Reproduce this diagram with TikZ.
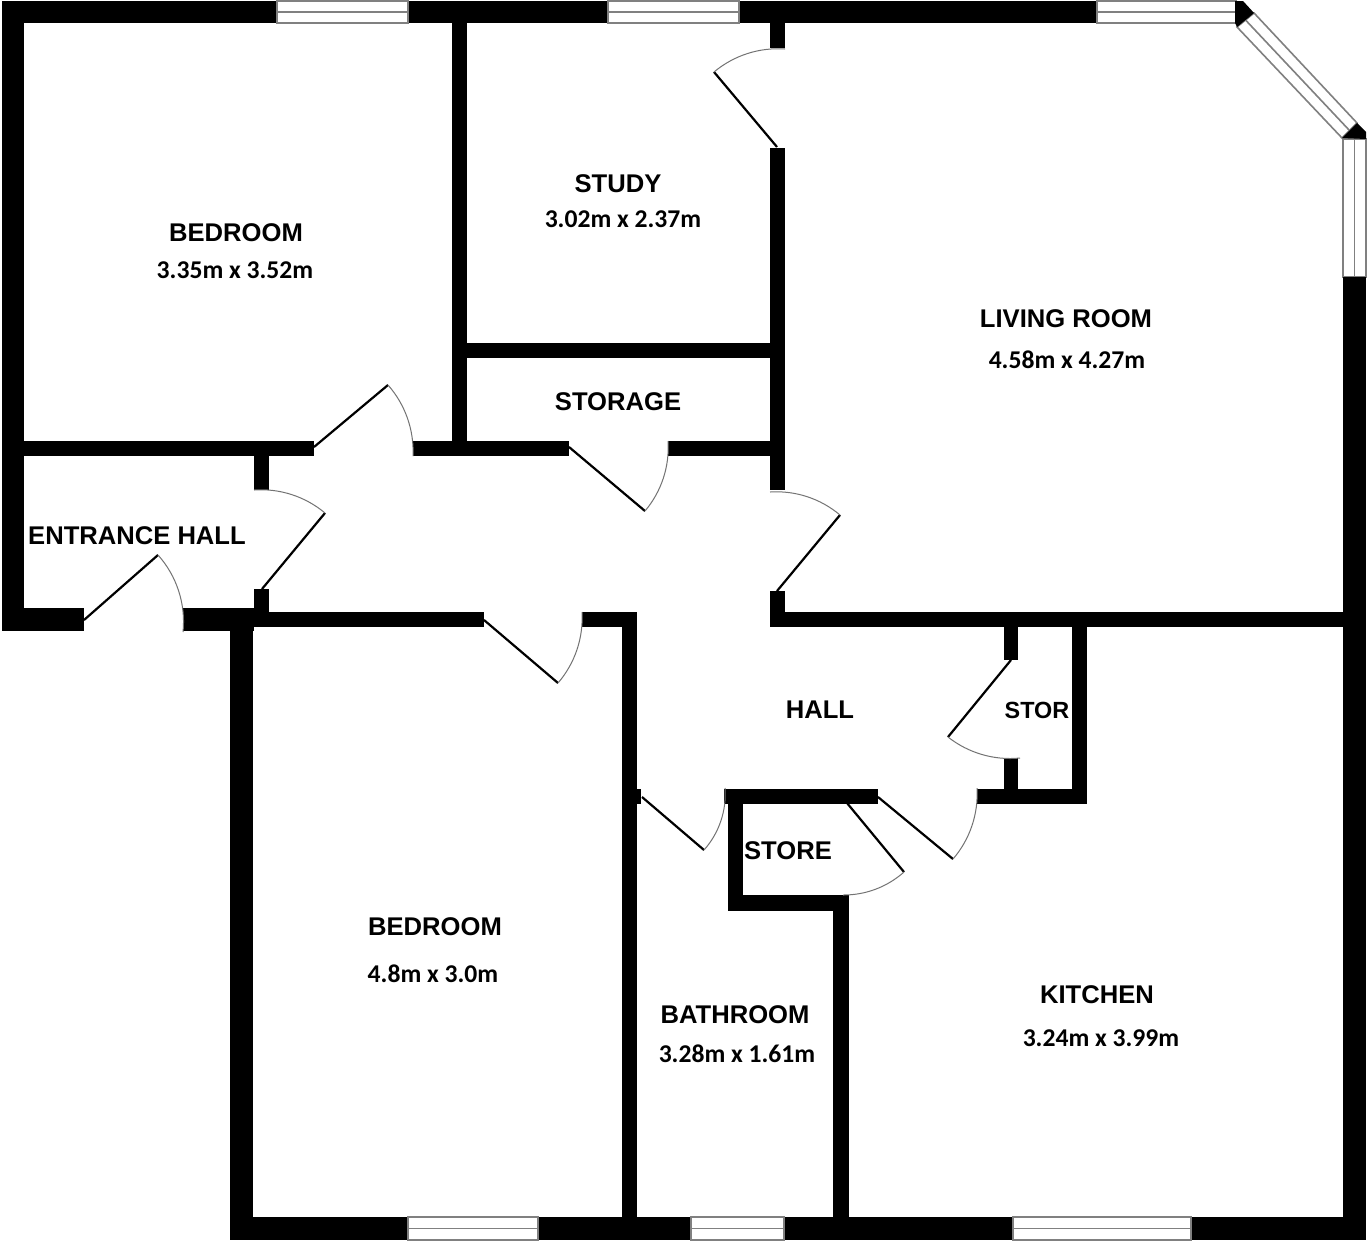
\documentclass[tikz,border=0pt]{standalone}
\usepackage{fontspec}
\setmainfont{Liberation Sans}
\newfontfamily\dimfont{Carlito}
\definecolor{wingray}{gray}{0.5}
\definecolor{arcgray}{gray}{0.45}
\newcommand{\wallbox}[4]{\fill[wallfill] (#1,#2) rectangle (#3,#4);}
\newcommand{\hwin}[4]{\draw[winline] (#1,#2) rectangle (#3,#4);\draw[winline] (#1,{(#2+#4)/2}) -- (#3,{(#2+#4)/2});}
\newcommand{\vwin}[4]{\draw[winline] (#1,#2) rectangle (#3,#4);\draw[winline] ({(#1+#3)/2},#2) -- ({(#1+#3)/2},#4);}
\newcommand{\doorleaf}[8]{\draw[leafline] (#1,#2) -- (#3,#4);\draw[arcline] (#3,#4) to[bend #7=#8] (#5,#6);}
\tikzset{
  wallfill/.style={fill=black},
  winline/.style={draw=wingray,line width=0.8pt,fill=white},
  leafline/.style={draw=black,line width=1.1pt},
  arcline/.style={draw=arcgray,line width=0.5pt,looseness=0.886},
  roomlabel/.style={font=\bfseries\fontsize{12.8}{14}\selectfont,inner sep=0pt,yshift=-0.5pt},
  smalllabel/.style={font=\bfseries\fontsize{11.7}{14}\selectfont,inner sep=0pt},
  dimlabel/.style={font=\dimfont\bfseries\fontsize{12.8}{14}\selectfont,inner sep=0pt},
}
\begin{document}
\begin{tikzpicture}[x=0.5pt,y=-0.5pt]
\useasboundingbox[fill=white] (0,0) rectangle (1368,1248);
% outer top wall
\wallbox{2}{1}{277}{23}
\wallbox{408}{1}{608}{23}
\wallbox{739}{1}{1097}{23}
\hwin{277}{1}{408}{23}
\hwin{608}{1}{739}{23}
\hwin{1097}{1}{1236}{23}
% bay window
\draw[winline] (1254,13) -- (1357,123) -- (1342,138) -- (1237,27) -- cycle;
\draw[winline] (1245.5,20) -- (1349.5,130.5);
\vwin{1343}{139}{1366}{277}
\fill[wallfill] (1235,1) -- (1243,1) -- (1254,13) -- (1237,27) -- (1235,23) -- cycle;
\fill[wallfill] (1357,123) -- (1366,132) -- (1366,139) -- (1342,138) -- cycle;
% left wall and entrance
\wallbox{2}{1}{24}{631}
\wallbox{2}{608}{84}{631}
\wallbox{24}{441}{314}{456}
\wallbox{254}{456}{269}{490}
\wallbox{254}{589}{269}{613}
\wallbox{183}{608}{254}{631}
\wallbox{230}{608}{253}{1240}
\wallbox{253}{612}{484}{627}
\wallbox{582}{612}{637}{627}
\wallbox{622}{612}{637}{1240}
% bottom wall
\wallbox{230}{1217}{408}{1240}
\wallbox{538}{1217}{691}{1240}
\wallbox{784}{1217}{1013}{1240}
\wallbox{1191}{1217}{1366}{1240}
\hwin{408}{1217}{538}{1240}
\hwin{691}{1217}{784}{1240}
\hwin{1013}{1217}{1191}{1240}
% right wall
\wallbox{1343}{277}{1366}{1240}
% interior
\wallbox{452}{23}{467}{456}
\wallbox{413}{441}{569}{456}
\wallbox{668}{441}{785}{456}
\wallbox{467}{343}{770}{358}
\wallbox{770}{23}{785}{48}
\wallbox{770}{148}{785}{490}
\wallbox{770}{591}{785}{627}
\wallbox{770}{612}{1343}{627}
\wallbox{1004}{627}{1018}{660}
\wallbox{1004}{758}{1018}{804}
\wallbox{1072}{627}{1087}{804}
\wallbox{977}{789}{1087}{804}
\wallbox{724}{789}{878}{804}
\wallbox{637}{789}{641}{804}
\wallbox{728}{804}{743}{911}
\wallbox{728}{895}{849}{911}
\wallbox{833}{895}{849}{1225}
% doors
\doorleaf{314}{447}{388}{385}{413}{456}{left}{22}
\doorleaf{569}{447}{645}{511}{668}{441}{right}{22}
\doorleaf{777}{591}{840}{515}{770}{492}{right}{22}
\doorleaf{777}{147}{714}{72}{785}{49}{left}{22}
\doorleaf{84}{620}{158}{555}{183}{632}{left}{24}
\doorleaf{262}{589}{325}{513}{254}{490}{right}{22}
\doorleaf{484}{620}{558}{683}{582}{612}{right}{22}
\doorleaf{642}{797}{704}{850}{725}{788}{right}{23}
\doorleaf{847}{803}{904}{872}{843}{895}{left}{21}
\doorleaf{878}{797}{953}{859}{977}{788}{right}{22}
\doorleaf{1011}{660}{948}{737}{1020}{758}{right}{22}
% labels
\node[roomlabel] (bed1) at (236,232) {BEDROOM};
\node[dimlabel] (bed1d) at (235,270) {3.35m x 3.52m};
\node[roomlabel] (study) at (618,183) {STUDY};
\node[dimlabel] (studyd) at (623,219) {3.02m x 2.37m};
\node[roomlabel] (living) at (1066,318) {LIVING ROOM};
\node[dimlabel] (livingd) at (1067,360) {4.58m x 4.27m};
\node[roomlabel] (storage) at (618,401) {STORAGE};
\node[roomlabel] (entry) at (137,535) {ENTRANCE HALL};
\node[roomlabel] (hall) at (820,709) {HALL};
\node[smalllabel] (stor) at (1037,710) {STOR};
\node[roomlabel] (store) at (788,850) {STORE};
\node[roomlabel] (bed2) at (435,926) {BEDROOM};
\node[dimlabel] (bed2d) at (433,974) {4.8m x 3.0m};
\node[roomlabel] (bath) at (735,1014) {BATHROOM};
\node[dimlabel] (bathd) at (737,1054) {3.28m x 1.61m};
\node[roomlabel] (kitchen) at (1097,994) {KITCHEN};
\node[dimlabel] (kitchend) at (1101,1038) {3.24m x 3.99m};
\end{tikzpicture}
\end{document}
